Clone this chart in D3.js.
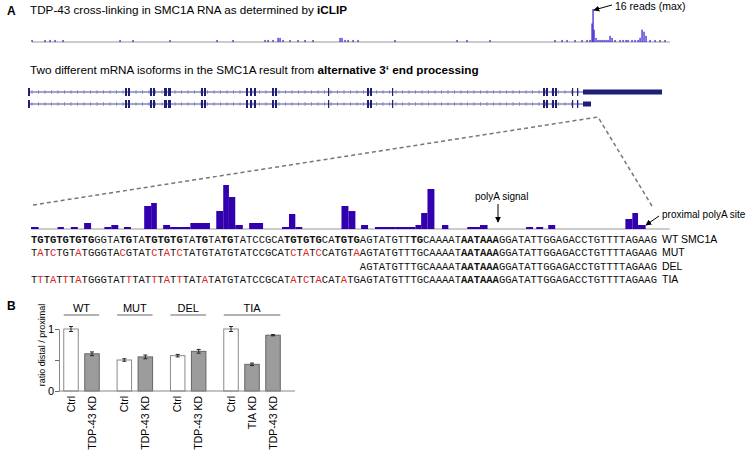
<!DOCTYPE html>
<html><head><meta charset="utf-8">
<script src="https://cdn.jsdelivr.net/npm/d3@7"></script>
<style>body{margin:0;background:#fff}svg{display:block}</style>
</head><body><svg id="c" width="749" height="456"></svg>
<script>
// ---------------- DATA ----------------
// iCLIP cross-link positions along SMC1A (relative units) and read counts
const iclipPos   = [0,13,18,23,31,88,101,138,185,201,233,236,241,246,248,251,258,266,273,281,308,310,313,316,321,326,363,425,435,458,523,530,535,543,550,555,558,560,561,562,564,566,568,570,572,574,576,578,580,583,588,591,594,596,600,603,606,608,610,612,614,618,623,628,633];
const iclipReads = [1,1,1,1,1,1,1,1,1,1,1,1,1,2,2,1,1,1,1,1,2,2,1,1,1,1,1,1,1,1,1,1,1,1,1,1,1,9,16,6,2,1,1,1,1,1,1,3,2,1,1,1,1,1,1,1,1,2,6,5,3,1,1,1,1];
// gene model exons (relative genomic position)
const exonStart = [0,97,100,122,125,136,140,173,176,218,222,226,244,247,300,339,342,364,515,518,524,527,544,549];
const exonEnd   = [2,99,102,124,127,139,143,175,178,220,224,228,246,249,301,341,344,365,517,520,526,529,545,550];
const utrStart = 555;
const isoformEnd = [634, 563];       // distal, proximal 3' end
// high-resolution coverage (nucleotide positions, reads)
const covStart = [0,4.2,6.3,8.4,11.6,12.7,14.7,17.9,19.0,20.9,22.0,25.2,29.3,30.4,31.3,32.3,34.5,39.7,40.8,41.8,49.1,50.2,52.2,54.4,57.6,60.8,61.7,62.7,65.0,69.0,71.0,78.3,79.9,81.8,94.0,95.1,96.0];
const covEnd   = [1.2,5.2,7.4,9.5,12.7,13.8,15.8,19.0,19.9,22.0,25.2,28.3,30.4,31.3,32.3,33.5,36.7,40.8,41.8,42.9,50.2,51.3,53.3,57.6,60.8,61.7,62.7,63.8,66.0,71.0,72.2,79.4,81.0,82.9,95.1,96.0,97.2];
const covReads = [1,1,1,3,1,2,1,11.5,13,2,1,3,9,22,16,2,3,1,7.5,1,11.5,9,2,1,1,2,8,20,2,1,2,1,1,2,5,8,2];
// sequences
const wtParts = [["TGTGTGTGTG",1],["GGTA",0],["TG",1],["TA",0],["TGTGTG",1],["TA",0],["TG",1],["TA",0],["TG",1],["TATCCGCA",0],["TGTGTG",1],["CA",0],["TGTG",1],["AGTATGTT",0],["TG",1],["CAAAAT",0],["AATAAA",1],["GGATATTGGAGACCTGTTTTAGAAG",0]];
const mutParts = [["TATCTGTATGGGTACGTATCTATCTATGTATGTATCCGCATCTATCCATGTAAGTATGTTTGCAAAAT",0],["AATAAA",1],["GGATATTGGAGACCTGTTTTAGAAG",0]];
const delParts = [["AGTATGTTTGCAAAAT",0],["AATAAA",1],["GGATATTGGAGACCTGTTTTAGAAG",0]];
const tiaParts = [["TTTATTTATGGGTATTTATTTATTTATATATGTATCCGCATATCTACATATGAGTATGTTTGCAAAAT",0],["AATAAA",1],["GGATATTGGAGACCTGTTTTAGAAG",0]];
const seqLabels = ["WT SMC1A","MUT","DEL","TIA"];
const seqOffsets = [0,0,52,0];
// bar chart
const groups = ["WT","MUT","DEL","TIA"];
const conditions = ["Ctrl","TDP-43 KD","Ctrl","TDP-43 KD","Ctrl","TDP-43 KD","Ctrl","TIA KD","TDP-43 KD"];
const barGroup = [0,0,1,1,2,2,3,3,3];
const ratio = [1.0,0.60,0.50,0.55,0.57,0.64,1.0,0.43,0.90];
const ratioErr = [0.04,0.03,0.02,0.03,0.02,0.03,0.04,0.02,0.01];
const yTicks = [0,0.5,1];

// ---------------- DRAW ----------------
const SANS = '"Liberation Sans", Arial, sans-serif';
const MONO = '"Liberation Mono", "Courier New", monospace';
const svg = d3.select("#c");
const defs = svg.append("defs");
defs.append("marker").attr("id","ah").attr("viewBox","0 0 8 8").attr("refX",7).attr("refY",4)
  .attr("markerWidth",6).attr("markerHeight",6).attr("orient","auto")
  .append("path").attr("d","M0,0L8,4L0,8z").attr("fill","#000");

function rich(x,y,parts,size,anchor){
  const t = svg.append("text").attr("x",x).attr("y",y).attr("font-family",SANS).attr("font-size",size).attr("fill","#000");
  if(anchor) t.attr("text-anchor",anchor);
  parts.forEach(p=>t.append("tspan").attr("font-weight",p[1]?"bold":"normal").text(p[0]));
  return t;
}
// panel letters and titles
rich(7,15,[["A",1]],12);
rich(30,14,[["TDP-43 cross-linking in SMC1A RNA as determined by ",0],["iCLIP",1]],11.7);
rich(30,74,[["Two different mRNA isoforms in the SMC1A result from ",0],["alternative 3\u2018 end processing",1]],11.7);
rich(7,310,[["B",1]],12);

// iCLIP track
const xI = d3.scaleLinear().domain([0,638]).range([32,670]);
const yI = d3.scaleLinear().domain([0,16]).range([42,9]);
svg.append("line").attr("x1",xI(0)).attr("x2",xI(638)).attr("y1",yI(0)).attr("y2",yI(0)).attr("stroke","#999").attr("stroke-width",1);
svg.append("g").selectAll("rect").data(iclipPos).join("rect")
  .attr("x",d=>xI(d)-0.6).attr("width",1.3)
  .attr("y",(d,i)=>yI(iclipReads[i])).attr("height",(d,i)=>yI(0)-yI(iclipReads[i]))
  .attr("fill","#3d2bd0");
svg.append("line").attr("x1",612).attr("y1",5).attr("x2",xI(560)+2).attr("y2",yI(15.5))
  .attr("stroke","#000").attr("stroke-width",1).attr("marker-end","url(#ah)");
rich(615,10,[["16 reads (max)",0]],10.5);

// gene models
const xG = d3.scaleLinear().domain([0,634]).range([28,662]);
const rowsY = [92,104];
const GENE = "#1f1f78";
rowsY.forEach((y,r)=>{
  const g = svg.append("g");
  g.append("line").attr("x1",xG(0)).attr("x2",xG(utrStart)).attr("y1",y).attr("y2",y).attr("stroke","#4a4a95").attr("stroke-width",1);
  g.selectAll("line.ch").data(d3.range(4,utrStart,6.5)).join("line").attr("class","ch")
    .attr("x1",d=>xG(d)).attr("x2",d=>xG(d)).attr("y1",y-1.8).attr("y2",y+1.8).attr("stroke","#7777b0").attr("stroke-width",0.8);
  g.selectAll("rect.ex").data(exonStart).join("rect").attr("class","ex")
    .attr("x",d=>xG(d)).attr("width",(d,i)=>Math.max(1.2,xG(exonEnd[i])-xG(d))).attr("y",y-4).attr("height",8).attr("fill",GENE);
  g.append("rect").attr("x",xG(utrStart)).attr("width",xG(isoformEnd[r])-xG(utrStart)).attr("y",y-2.5).attr("height",5).attr("fill",GENE);
});

// coverage track
const xS = d3.scaleLinear().domain([0,99]).range([31,657]);
const yC = d3.scaleLinear().domain([0,22]).range([229,185]);
// zoom dashed lines
svg.append("path").attr("d",`M${xS(0)+2},205L${xG(570)},117L${xS(98.3)},207`)
  .attr("fill","none").attr("stroke","#777").attr("stroke-width",1.5).attr("stroke-dasharray","4,3");
svg.append("line").attr("x1",xS(0)).attr("x2",xS(101)).attr("y1",yC(0)).attr("y2",yC(0)).attr("stroke","#999").attr("stroke-width",1.2);
svg.append("g").selectAll("rect").data(covStart).join("rect")
  .attr("x",d=>xS(d)).attr("width",(d,i)=>xS(covEnd[i])-xS(d))
  .attr("y",(d,i)=>yC(covReads[i])).attr("height",(d,i)=>yC(0)-yC(covReads[i]))
  .attr("fill","#3300b0");
// annotations
rich(475,200,[["polyA signal",0]],10);
svg.append("line").attr("x1",498).attr("x2",498).attr("y1",204).attr("y2",222).attr("stroke","#000").attr("marker-end","url(#ah)");
rich(662,218,[["proximal polyA site",0]],10);
svg.append("line").attr("x1",659).attr("y1",216).attr("x2",646).attr("y2",225).attr("stroke","#000").attr("marker-end","url(#ah)");

// sequences
function chars(parts){ const out=[]; parts.forEach(p=>{ for(const c of p[0]) out.push({c,b:p[1]}); }); return out; }
const wtChars = chars(wtParts);
const allRows = [wtParts,mutParts,delParts,tiaParts];
const seqY = [243,256.3,269.6,283];
allRows.forEach((parts,r)=>{
  const cs = chars(parts), off = seqOffsets[r];
  svg.append("g").selectAll("text").data(cs).join("text")
    .attr("x",(d,i)=>xS(i+off+0.5)).attr("y",seqY[r]).attr("text-anchor","middle")
    .attr("font-family",MONO).attr("font-size",10.5)
    .attr("font-weight",d=>d.b?"bold":"normal")
    .attr("fill",(d,i)=>d.c!==wtChars[i+off].c?"#e3231e":"#111")
    .text(d=>d.c);
  rich(662,seqY[r],[[seqLabels[r],0]],10.5);
});

// ---------------- PANEL B ----------------
const barPos = conditions.map((c,i)=>i+0.54*barGroup[i]);
const xB = d3.scaleLinear().domain([0,1]).range([71,92]);
const yB = d3.scaleLinear().domain([0,1]).range([391,329]);
const BW = 14.5;
const gB = svg.append("g");
gB.selectAll("rect").data(ratio).join("rect")
  .attr("x",(d,i)=>xB(barPos[i])-BW/2).attr("width",BW)
  .attr("y",d=>yB(d)).attr("height",d=>yB(0)-yB(d))
  .attr("fill",(d,i)=>conditions[i]==="Ctrl"?"#fff":"#9c9c9c")
  .attr("stroke",(d,i)=>conditions[i]==="Ctrl"?"#8a8a8a":"#666").attr("stroke-width",1);
gB.selectAll("path.err").data(ratio).join("path").attr("class","err")
  .attr("d",(d,i)=>{const x=xB(barPos[i]),y1=yB(d-ratioErr[i]),y2=yB(d+ratioErr[i]);return `M${x-2},${y1}H${x+2}M${x},${y1}V${y2}M${x-2},${y2}H${x+2}`;})
  .attr("stroke","#222").attr("stroke-width",1).attr("fill","none");
const ax = svg.append("g").attr("transform","translate(59,0)")
  .call(d3.axisLeft(yB).tickValues(yTicks).tickSize(4).tickPadding(1).tickSizeOuter(0).tickFormat(d=>d===0.5?"":d3.format("d")(d)));
ax.select(".domain").attr("stroke","#888");
ax.selectAll(".tick line").attr("stroke","#666");
ax.selectAll(".tick text").attr("font-family",SANS).attr("font-size",11).attr("fill","#000");
svg.append("line").attr("x1",59).attr("x2",295).attr("y1",yB(0)).attr("y2",yB(0)).attr("stroke","#888").attr("stroke-width",1.2);
svg.append("text").attr("transform","translate(45,345) rotate(-90)").attr("text-anchor","middle")
  .attr("font-family",SANS).attr("font-size",9).text("ratio distal / proximal");
groups.forEach((g,gi)=>{
  const idx = barGroup.map((b,i)=>b===gi?i:-1).filter(i=>i>=0);
  const x0 = xB(barPos[idx[0]])-BW/2, x1 = xB(barPos[idx[idx.length-1]])+BW/2;
  svg.append("line").attr("x1",x0).attr("x2",x1).attr("y1",315).attr("y2",315).attr("stroke","#b3b3b3").attr("stroke-width",2);
  svg.append("text").attr("x",(x0+x1)/2).attr("y",311.5).attr("text-anchor","middle").attr("font-family",SANS).attr("font-size",11).text(g);
});
svg.append("g").selectAll("text").data(conditions).join("text")
  .attr("transform",(d,i)=>`translate(${xB(barPos[i])+3.8},396) rotate(-90)`)
  .attr("text-anchor","end").attr("font-family",SANS).attr("font-size",10.5).text(d=>d);
</script></body></html>
